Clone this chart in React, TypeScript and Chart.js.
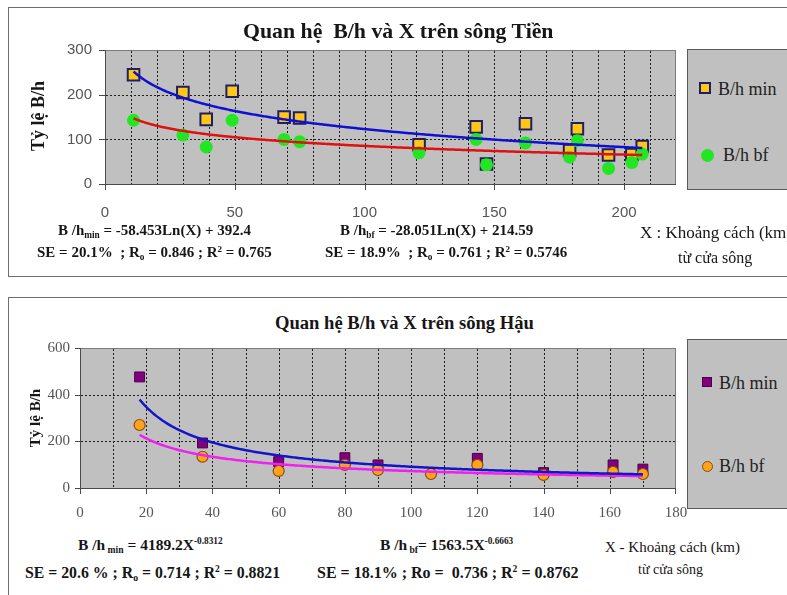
import React, { useEffect, useRef, useState } from "react";
import { Chart, registerables } from "chart.js";

Chart.register(...registerables);

// ---- Sông Tiền: distance from river mouth (km) and B/h ratios ----
const tienKm = [11, 30, 39, 49, 69, 75, 121, 143, 147, 162, 179, 182, 194, 203, 207];
const tienMin = [245, 205, 145, 208, 150, 148, 88, 128, 45, 135, 75, 124, 65, 66, 84];
const tienBf = [143, 110, 83, 143, 100, 95, 70, 100, 43, 92, 60, 97, 35, 48, 67];
const tienXLabels = [0, 50, 100, 150, 200];
const tienYLabels = [0, 100, 200, 300];
// logarithmic trends: B/h = a·Ln(X) + b
const tienMinFit = { a: -58.453, b: 392.4 };
const tienBfFit = { a: -28.051, b: 214.59 };

// ---- Sông Hậu ----
const hauMinKm = [18, 37, 60, 80, 90, 120, 140, 161, 170];
const hauMin = [476, 193, 113, 130, 99, 127, 66, 99, 81];
const hauBfKm = [18, 37, 60, 80, 90, 106, 120, 140, 161, 170];
const hauBf = [270, 134, 73, 99, 77, 60, 99, 56, 69, 60];
const hauXLabels = [0, 20, 40, 60, 80, 100, 120, 140, 160, 180];
const hauYLabels = [0, 200, 400, 600];
// power trends: B/h = c·X^k
const hauMinFit = { c: 4189.2, k: -0.8312 };
const hauBfFit = { c: 1563.5, k: -0.6663 };

const serif = '"Liberation Serif", "Times New Roman", serif';
const sans = '"Liberation Sans", Arial, sans-serif';

const pairs = (xs: number[], ys: number[]) => xs.map((x, i) => ({ x, y: ys[i] }));

function curve(xs: number[], f: (x: number) => number) {
  const pts: { x: number; y: number }[] = [];
  const x0 = xs[0];
  const x1 = xs[xs.length - 1];
  for (let x = x0; x < x1; x += 0.5) pts.push({ x, y: f(x) });
  pts.push({ x: x1, y: f(x1) });
  return pts;
}

type Box = { left: number; top: number; width: number; height: number };
type Geom = {
  L: number;
  T: number;
  R: number;
  B: number;
  gx: number[];
  gy: number[];
  tx: number[];
  ty: number[];
};
type PanelChartProps = {
  box: Box;
  yAxisWidth: number;
  xAxisHeight: number;
  padTop: number;
  padRight: number;
  xMax: number;
  xGridStep: number;
  xLabels: number[];
  yLabels: number[];
  tickFont: { family: string; size: number };
  xTickLen: number;
  xTickPad: number;
  yTickLen: number;
  yTickPad: number;
  makeDatasets: () => any[];
};

const abs = (left: number, top: number, width: number, height: number, extra: React.CSSProperties = {}) =>
  ({ position: "absolute", left, top, width, height, ...extra } as React.CSSProperties);

// grey plot area, dotted grid, frame, axes and tick marks, placed from the chart's scales
function PlotBackdrop({ g, ox, oy, xTickLen, yTickLen }: { g: Geom; ox: number; oy: number; xTickLen: number; yTickLen: number }) {
  const w = g.R - g.L + 1;
  const h = g.B - g.T + 1;
  const dotsV = "repeating-linear-gradient(to bottom, #1e1e1e 0px, #1e1e1e 2px, transparent 2px, transparent 4px)";
  const dotsH = "repeating-linear-gradient(to right, #1e1e1e 0px, #1e1e1e 2px, transparent 2px, transparent 4px)";
  return (
    <>
      <div style={abs(ox + g.L, oy + g.T, w, h, { background: "#c0c0c0" })} />
      {g.gx.map((px, i) => (
        <div key={"gx" + i} style={abs(ox + px, oy + g.T + 1, 1, h - 2, { backgroundImage: dotsV })} />
      ))}
      {g.gy.map((py, i) => (
        <div key={"gy" + i} style={abs(ox + g.L + 1, oy + py, w - 2, 1, { backgroundImage: dotsH })} />
      ))}
      <div style={abs(ox + g.L, oy + g.T, w, 1, { background: "#7c7c7c" })} />
      <div style={abs(ox + g.R, oy + g.T, 1, h, { background: "#7c7c7c" })} />
      <div style={abs(ox + g.L, oy + g.T, 1, h, { background: "#4a4a4a" })} />
      <div style={abs(ox + g.L, oy + g.B, w, 1, { background: "#4a4a4a" })} />
      {g.ty.map((py, i) => (
        <div key={"ty" + i} style={abs(ox + g.L - yTickLen, oy + py, yTickLen, 1, { background: "#4a4a4a" })} />
      ))}
      {g.tx.map((px, i) => (
        <div key={"tx" + i} style={abs(ox + px, oy + g.B, 1, xTickLen + 1, { background: "#4a4a4a" })} />
      ))}
    </>
  );
}

function PanelChart(p: PanelChartProps) {
  const ref = useRef<HTMLCanvasElement>(null);
  const [geom, setGeom] = useState<Geom | null>(null);
  useEffect(() => {
    const canvas = ref.current;
    if (!canvas) return;
    const old = Chart.getChart(canvas);
    if (old) old.destroy();
    const yMax = p.yLabels[p.yLabels.length - 1];
    const yStep = p.yLabels[1] - p.yLabels[0];

    const chart = new Chart(canvas, {
      type: "scatter",
      data: { datasets: p.makeDatasets() },
      options: {
        responsive: false,
        animation: false,
        devicePixelRatio: 1,
        layout: { padding: { top: p.padTop, right: p.padRight, left: 0, bottom: 0 } },
        plugins: { legend: { display: false }, tooltip: { enabled: false } },
        scales: {
          x: {
            type: "linear",
            min: 0,
            max: p.xMax,
            afterFit: (s: any) => {
              s.height = p.xAxisHeight;
              s.paddingLeft = 0;
              s.paddingRight = 0;
            },
            ticks: {
              stepSize: p.xGridStep,
              autoSkip: false,
              maxRotation: 0,
              padding: p.xTickLen + p.xTickPad,
              color: "#555",
              font: p.tickFont,
              callback: (v: any) => (p.xLabels.includes(Number(v)) ? String(v) : ""),
            },
            grid: { display: false, drawTicks: false },
            border: { display: false },
          },
          y: {
            type: "linear",
            min: 0,
            max: yMax,
            afterFit: (s: any) => {
              s.width = p.yAxisWidth;
              s.paddingTop = 0;
              s.paddingBottom = 0;
            },
            ticks: {
              stepSize: yStep,
              padding: p.yTickLen + p.yTickPad,
              color: "#555",
              font: p.tickFont,
            },
            grid: { display: false, drawTicks: false },
            border: { display: false },
          },
        },
      } as any,
    });

    const a = chart.chartArea;
    const xs: any = chart.scales.x;
    const ys: any = chart.scales.y;
    if (a && xs && ys) {
      const R = Math.round(a.right) - 1;
      const gx: number[] = [];
      for (let v = p.xGridStep; v < p.xMax - 1e-6; v += p.xGridStep) gx.push(Math.round(xs.getPixelForValue(v)));
      const gy = p.yLabels.filter((v) => v !== 0 && v !== yMax).map((v) => Math.round(ys.getPixelForValue(v)));
      const tx = p.xLabels.map((v) => Math.min(Math.round(xs.getPixelForValue(v)), R));
      const ty = p.yLabels.map((v) => Math.round(ys.getPixelForValue(v)));
      setGeom({ L: Math.round(a.left), T: Math.round(a.top), R, B: Math.round(a.bottom), gx, gy, tx, ty });
    }
    return () => chart.destroy();
  }, []);
  return (
    <>
      {geom && <PlotBackdrop g={geom} ox={p.box.left} oy={p.box.top} xTickLen={p.xTickLen} yTickLen={p.yTickLen} />}
      <canvas
        ref={ref}
        width={p.box.width}
        height={p.box.height}
        style={{
          position: "absolute",
          left: p.box.left,
          top: p.box.top,
          width: p.box.width,
          height: p.box.height,
        }}
      />
    </>
  );
}

function Txt(props: {
  x: number;
  base: number;
  size: number;
  bold?: boolean;
  family?: string;
  color?: string;
  children: React.ReactNode;
}) {
  const { x, base, size, bold, family = serif, color = "#161616", children } = props;
  return (
    <div
      style={{
        position: "absolute",
        left: x,
        top: base - 0.84 * size,
        fontSize: size,
        lineHeight: `${size}px`,
        fontWeight: bold ? 700 : 400,
        fontFamily: family,
        color,
        whiteSpace: "pre",
      }}
    >
      {children}
    </div>
  );
}

const Sub = ({ children }: { children: React.ReactNode }) => (
  <span style={{ fontSize: "0.62em", verticalAlign: "-0.28em", lineHeight: 0 }}>{children}</span>
);
const Sup = ({ children }: { children: React.ReactNode }) => (
  <span style={{ fontSize: "0.6em", verticalAlign: "0.6em", lineHeight: 0 }}>{children}</span>
);

function AxisTitle({ cx, cy, size, text }: { cx: number; cy: number; size: number; text: string }) {
  return (
    <div
      style={{
        position: "absolute",
        left: cx,
        top: cy,
        transform: "translate(-50%, -50%) rotate(-90deg)",
        fontFamily: serif,
        fontWeight: 700,
        fontSize: size,
        lineHeight: `${size}px`,
        color: "#161616",
        whiteSpace: "nowrap",
      }}
    >
      {text}
    </div>
  );
}

function LegendBox(props: {
  box: Box;
  items: { cx: number; cy: number; marker: React.CSSProperties; textX: number; base: number; label: string }[];
}) {
  const { box, items } = props;
  return (
    <>
      <div
        style={{
          position: "absolute",
          left: box.left,
          top: box.top,
          width: box.width,
          height: box.height,
          background: "#c0c0c0",
          border: "1px solid #5a5a5a",
          boxSizing: "border-box",
        }}
      />
      {items.map((it, i) => {
        const w = Number(it.marker.width);
        const h = Number(it.marker.height);
        return (
          <React.Fragment key={i}>
            <div
              style={{
                position: "absolute",
                left: it.cx - w / 2,
                top: it.cy - h / 2,
                boxSizing: "border-box",
                ...it.marker,
              }}
            />
            <Txt x={it.textX} base={it.base} size={18} color="#222">
              {it.label}
            </Txt>
          </React.Fragment>
        );
      })}
    </>
  );
}

const tienDatasets = () => [
  {
    label: "Trend B/h min",
    data: curve(tienKm, (x) => tienMinFit.a * Math.log(x) + tienMinFit.b),
    showLine: true,
    fill: false,
    borderColor: "#1010d0",
    backgroundColor: "#1010d0",
    borderWidth: 2.5,
    pointRadius: 0,
  },
  {
    label: "Trend B/h bf",
    data: curve(tienKm, (x) => tienBfFit.a * Math.log(x) + tienBfFit.b),
    showLine: true,
    fill: false,
    borderColor: "#e01010",
    backgroundColor: "#e01010",
    borderWidth: 2.5,
    pointRadius: 0,
  },
  {
    label: "B/h bf",
    data: pairs(tienKm, tienBf),
    pointStyle: "circle",
    pointRadius: 6.5,
    pointBorderWidth: 0,
    pointBackgroundColor: "#22e622",
    pointBorderColor: "#22e622",
  },
  {
    label: "B/h min",
    data: pairs(tienKm, tienMin),
    pointStyle: "rect",
    pointRadius: 8.2,
    pointBorderWidth: 2,
    pointBackgroundColor: "#ffc61a",
    pointBorderColor: "#1e1e66",
  },
];

const hauDatasets = () => [
  {
    label: "Trend B/h min",
    data: curve(hauMinKm, (x) => hauMinFit.c * Math.pow(x, hauMinFit.k)),
    showLine: true,
    fill: false,
    borderColor: "#1515c8",
    backgroundColor: "#1515c8",
    borderWidth: 2.5,
    pointRadius: 0,
  },
  {
    label: "Trend B/h bf",
    data: curve(hauBfKm, (x) => hauBfFit.c * Math.pow(x, hauBfFit.k)),
    showLine: true,
    fill: false,
    borderColor: "#f020f0",
    backgroundColor: "#f020f0",
    borderWidth: 2.5,
    pointRadius: 0,
  },
  {
    label: "B/h bf",
    data: pairs(hauBfKm, hauBf),
    pointStyle: "circle",
    pointRadius: 5.5,
    pointBorderWidth: 1.2,
    pointBackgroundColor: "#ffa31a",
    pointBorderColor: "#8a4a10",
  },
  {
    label: "B/h min",
    data: pairs(hauMinKm, hauMin),
    pointStyle: "rect",
    pointRadius: 7,
    pointBorderWidth: 1,
    pointBackgroundColor: "#800080",
    pointBorderColor: "#4a004a",
  },
];

export default function App() {
  return (
    <div
      style={{
        position: "absolute",
        left: 0,
        top: 0,
        width: 787,
        height: 595,
        overflow: "hidden",
        background: "#fff",
      }}
    >
      {/* panel frames */}
      <div
        style={{
          position: "absolute",
          left: 8,
          top: 7,
          width: 820,
          height: 270,
          border: "1px solid #6e6e6e",
          boxSizing: "border-box",
        }}
      />
      <div
        style={{
          position: "absolute",
          left: 8,
          top: 297,
          width: 820,
          height: 320,
          border: "1px solid #6e6e6e",
          boxSizing: "border-box",
        }}
      />

      {/* plots */}
      <PanelChart
        box={{ left: 40, top: 40, width: 650, height: 190 }}
        yAxisWidth={65}
        xAxisHeight={46}
        padTop={9}
        padRight={14}
        xMax={220}
        xGridStep={10}
        xLabels={tienXLabels}
        yLabels={tienYLabels}
        tickFont={{ family: sans, size: 15 }}
        xTickLen={5}
        xTickPad={15}
        yTickLen={6}
        yTickPad={7}
        makeDatasets={tienDatasets}
      />
      <PanelChart
        box={{ left: 20, top: 340, width: 670, height: 190 }}
        yAxisWidth={60}
        xAxisHeight={42}
        padTop={8}
        padRight={14}
        xMax={180}
        xGridStep={10}
        xLabels={hauXLabels}
        yLabels={hauYLabels}
        tickFont={{ family: serif, size: 15 }}
        xTickLen={5}
        xTickPad={11}
        yTickLen={5}
        yTickPad={5}
        makeDatasets={hauDatasets}
      />

      {/* ---------- Sông Tiền texts ---------- */}
      <Txt x={243} base={39} size={21.8} bold>
        {"Quan hệ  B/h và X trên sông Tiền"}
      </Txt>
      <AxisTitle cx={38} cy={116} size={18} text="Tỷ lệ B/h" />
      <LegendBox
        box={{ left: 687, top: 49, width: 130, height: 141 }}
        items={[
          {
            cx: 705,
            cy: 88,
            marker: { width: 12, height: 12, background: "#ffc61a", border: "2px solid #1e1e66" },
            textX: 718,
            base: 95,
            label: "B/h min",
          },
          {
            cx: 707,
            cy: 155,
            marker: { width: 13, height: 13, background: "#22e622", borderRadius: "50%" },
            textX: 723,
            base: 161,
            label: "B/h bf",
          },
        ]}
      />
      <Txt x={58} base={236} size={15} bold>
        B /h<Sub>min</Sub>
        {" = -58.453Ln(X) + 392.4"}
      </Txt>
      <Txt x={37} base={257.5} size={15} bold>
        {"SE = 20.1%  ; R"}
        <Sub>o</Sub>
        {" = 0.846 ; R"}
        <Sup>2</Sup>
        {" = 0.765"}
      </Txt>
      <Txt x={340} base={236} size={15} bold>
        B /h<Sub>bf</Sub>
        {" = -28.051Ln(X) + 214.59"}
      </Txt>
      <Txt x={325} base={257.5} size={15} bold>
        {"SE = 18.9%  ; R"}
        <Sub>o</Sub>
        {" = 0.761 ; R"}
        <Sup>2</Sup>
        {" = 0.5746"}
      </Txt>
      <Txt x={640} base={238} size={17}>
        {"X : Khoảng cách (km)"}
      </Txt>
      <Txt x={678} base={263} size={16}>
        {"từ cửa sông"}
      </Txt>

      {/* ---------- Sông Hậu texts ---------- */}
      <Txt x={275} base={330} size={18.6} bold>
        {"Quan hệ B/h và X trên sông Hậu"}
      </Txt>
      <AxisTitle cx={35} cy={418} size={15} text="Tỷ lệ B/h" />
      <LegendBox
        box={{ left: 687, top: 339, width: 130, height: 170 }}
        items={[
          {
            cx: 707,
            cy: 382,
            marker: { width: 10, height: 10, background: "#800080", border: "1px solid #4a004a" },
            textX: 719,
            base: 389,
            label: "B/h min",
          },
          {
            cx: 707,
            cy: 466,
            marker: {
              width: 11,
              height: 11,
              background: "#ffa31a",
              border: "1px solid #8a4a10",
              borderRadius: "50%",
            },
            textX: 719,
            base: 472,
            label: "B/h bf",
          },
        ]}
      />
      <Txt x={78} base={550} size={15.5} bold>
        B /h<Sub>{" min"}</Sub>
        {" = 4189.2X"}
        <Sup>-0.8312</Sup>
      </Txt>
      <Txt x={25} base={578} size={15.8} bold>
        {"SE = 20.6 % ; R"}
        <Sub>o</Sub>
        {" = 0.714 ; R"}
        <Sup>2</Sup>
        {" = 0.8821"}
      </Txt>
      <Txt x={380} base={550} size={15.5} bold>
        B /h<Sub>{" bf"}</Sub>
        {"= 1563.5X"}
        <Sup>-0.6663</Sup>
      </Txt>
      <Txt x={317} base={578} size={16} bold>
        {"SE = 18.1% ; Ro =  0.736 ; R"}
        <Sup>2</Sup>
        {" = 0.8762"}
      </Txt>
      <Txt x={605} base={553} size={15}>
        {"X - Khoảng cách (km)"}
      </Txt>
      <Txt x={638} base={575} size={14}>
        {"từ cửa sông"}
      </Txt>
    </div>
  );
}
